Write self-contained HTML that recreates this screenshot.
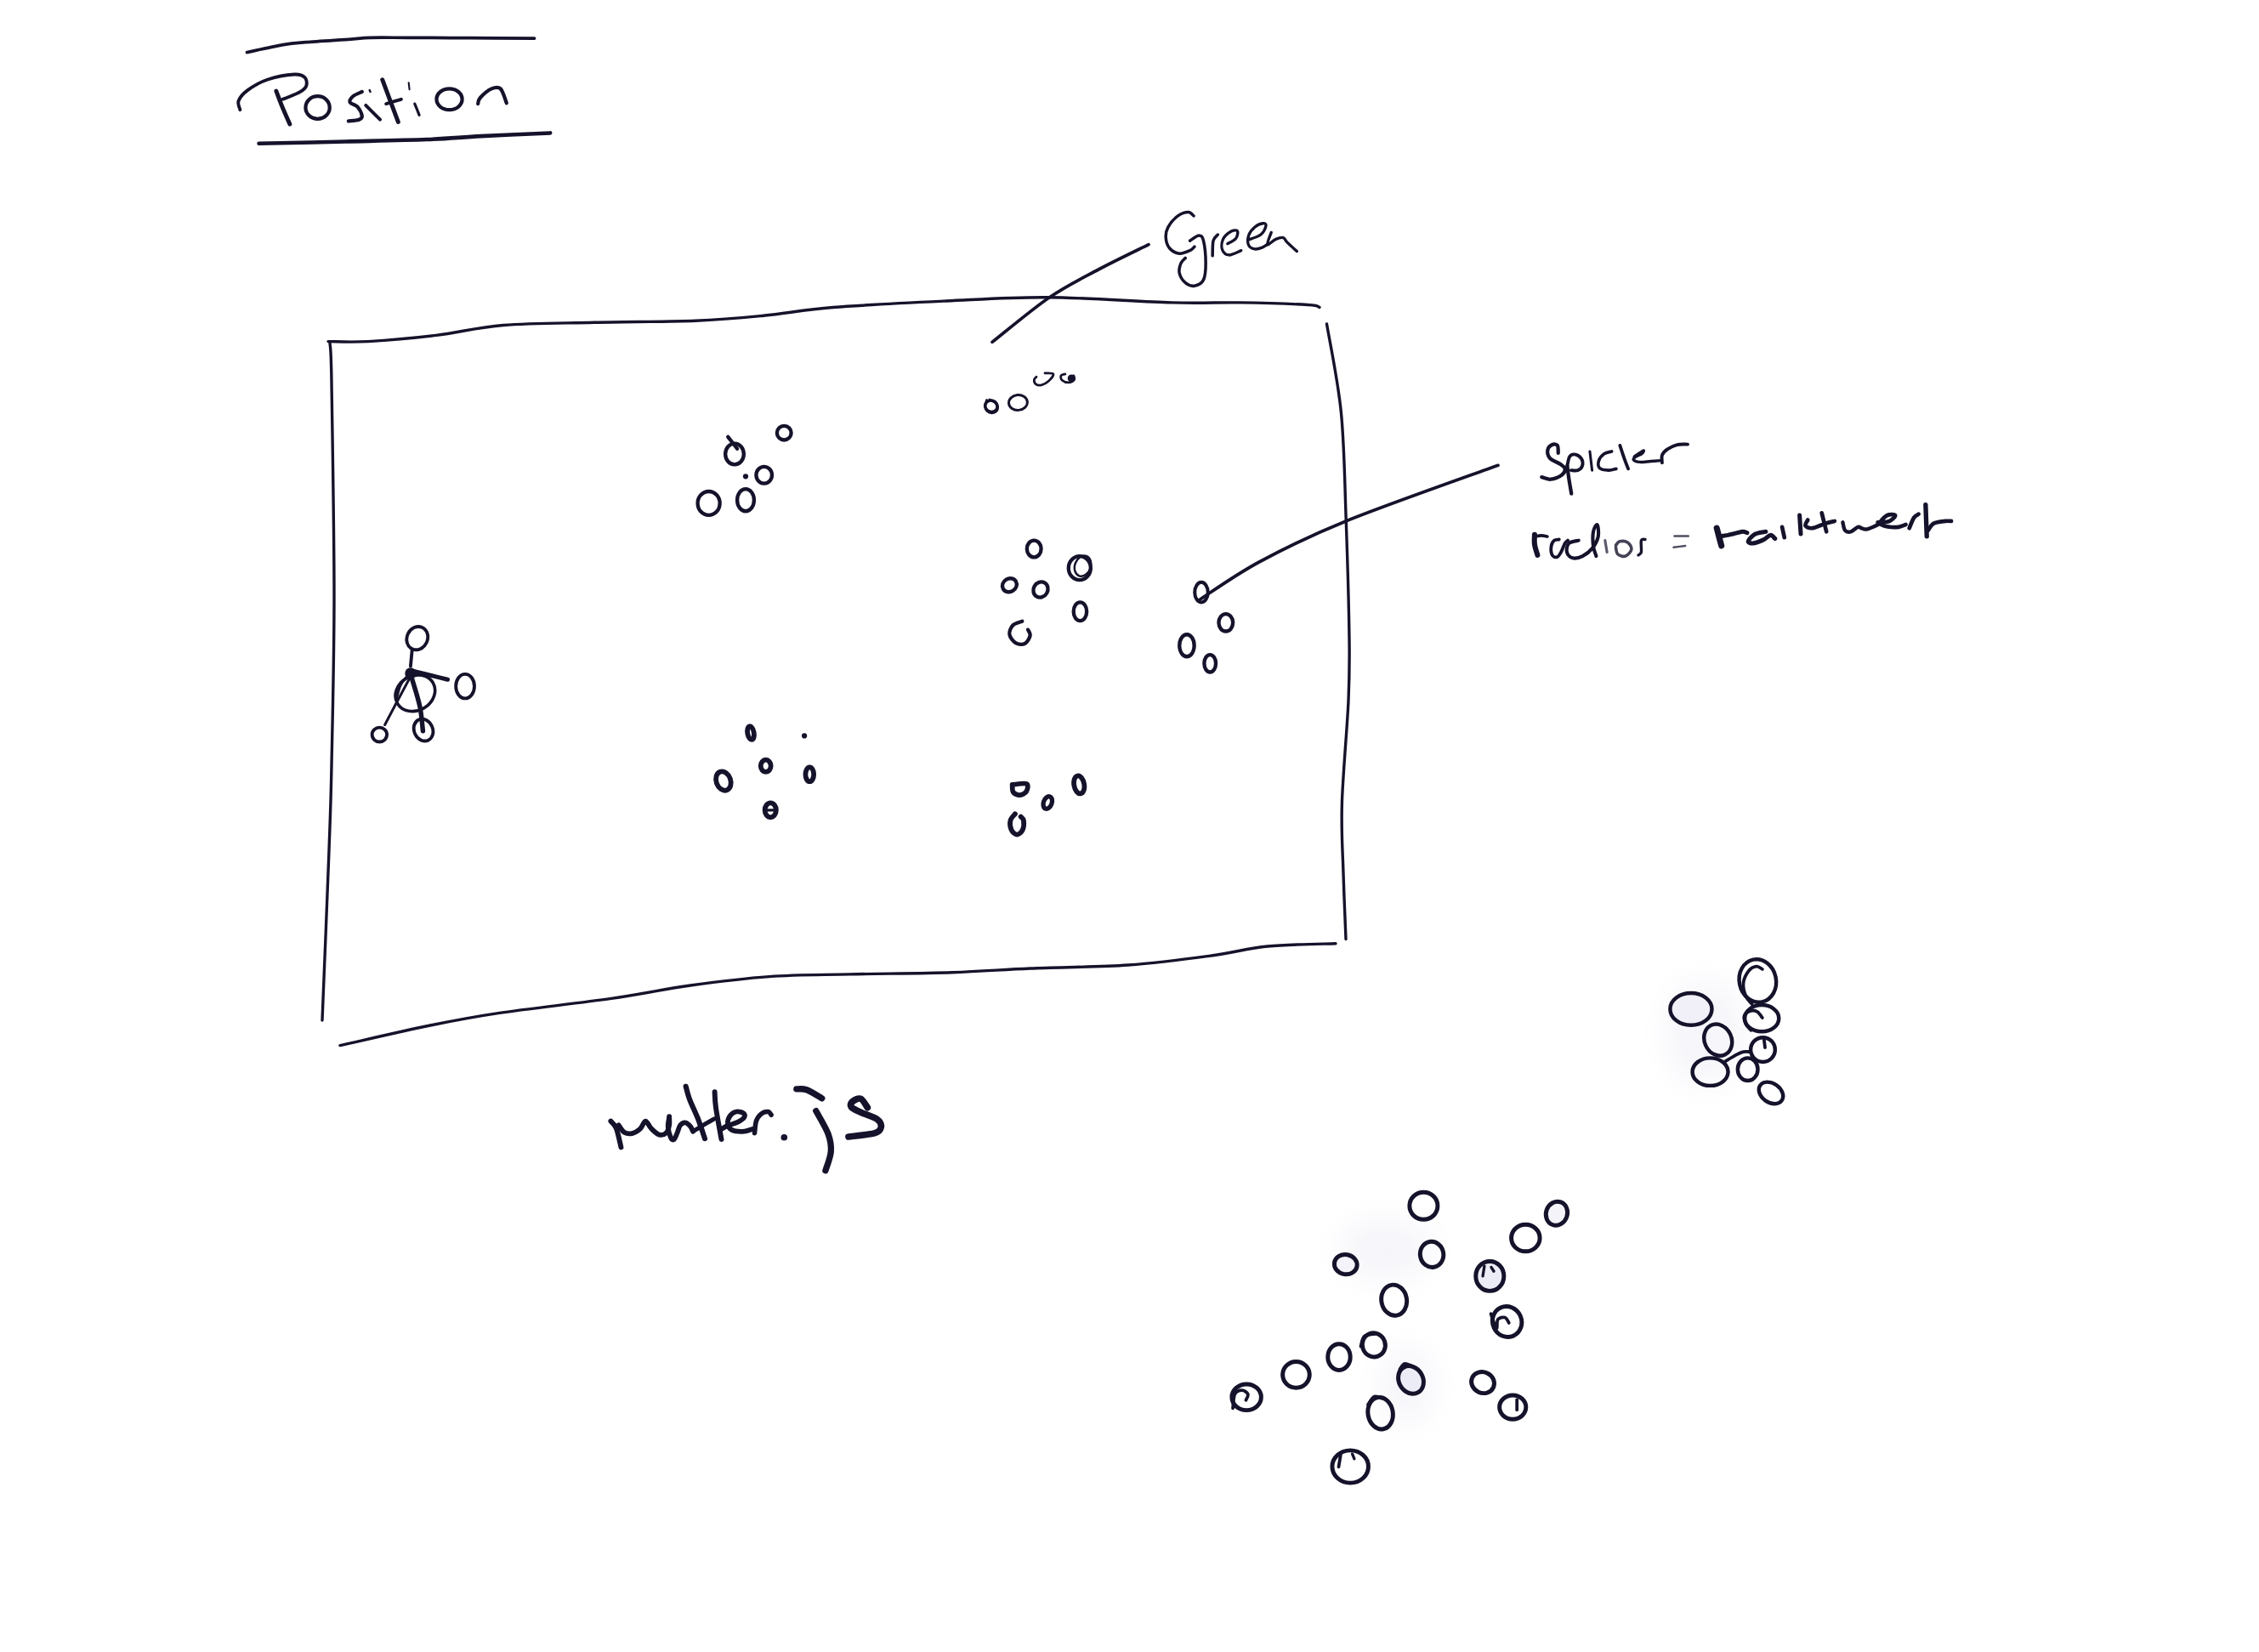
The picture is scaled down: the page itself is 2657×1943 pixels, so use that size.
<!DOCTYPE html>
<html><head><meta charset="utf-8"><title>Position sketch</title>
<style>
html,body{margin:0;padding:0;background:#ffffff;width:2657px;height:1943px;overflow:hidden;font-family:"Liberation Sans",sans-serif;}
svg{position:absolute;left:0;top:0;display:block;}
</style></head>
<body>
<svg width="2657" height="1943" viewBox="0 0 2657 1943">
<rect x="0" y="0" width="2657" height="1943" fill="#ffffff"/>
<defs><filter id="bl" x="-50%" y="-50%" width="200%" height="200%"><feGaussianBlur stdDeviation="18"/></filter></defs>
<g filter="url(#bl)" fill="#f5f5fa">
<ellipse cx="2005" cy="1215" rx="45" ry="60"/>
<ellipse cx="1630" cy="1470" rx="55" ry="35"/>
<ellipse cx="1655" cy="1630" rx="30" ry="45"/>
</g>
<g fill="none" stroke="#15132b" stroke-linecap="round" stroke-linejoin="round">
<g transform="translate(0,0) scale(1.000000)">
<path d="M386,401.6 C393.8,401.6 411.8,402.8 433,401.6 C454.2,400.4 486.5,397.6 513,394.4 C539.5,391.2 561,385 592,382.5 C623,380 661.3,380.2 699,379.3 C736.7,378.4 784.8,378.5 818,377.2 C851.2,375.9 871,373.9 898,371.3 C925,368.7 944.2,364.4 980,361.5 C1015.8,358.6 1071,356 1113,354 C1155,352 1187.8,349.4 1232,349.7 C1276.2,350 1340.3,354.9 1378,355.9 C1415.7,356.9 1431.3,355.5 1458,355.9 C1484.7,356.3 1522.3,357.6 1538,358.5 C1553.7,359.4 1549.7,361 1552,361.5" stroke-width="3.4"/>
<path d="M388,403 C388.3,410.8 389.2,400.5 390,450 C390.8,499.5 393,625 393,700 C393,775 391,850 390,900 C389,950 388.8,950 387,1000 C385.2,1050 380.3,1166.7 379,1200" stroke-width="3.4"/>
<path d="M1560.5,381 C1563.3,398.3 1573.6,446.7 1577.4,485 C1581.2,523.3 1581.6,566.7 1583.2,611 C1584.8,655.3 1586.5,715.5 1587,751 C1587.5,786.5 1587.4,791.7 1586,824 C1584.6,856.3 1579.4,911.2 1578.4,945 C1577.4,978.8 1579.2,1000.4 1580,1027 C1580.8,1053.6 1582.5,1091.6 1583,1104.5" stroke-width="3.4"/>
<path d="M400,1229.6 C417.7,1225.7 475,1212.3 506,1206 C537,1199.7 550.5,1196.9 586,1191.6 C621.5,1186.3 681.3,1179.8 719,1174.4 C756.7,1169 781,1163.3 812,1159 C843,1154.7 873.7,1150.8 905,1148.6 C936.3,1146.4 964.2,1146.7 1000,1145.9 C1035.8,1145.1 1084.7,1144.9 1120,1143.7 C1155.3,1142.5 1177.5,1140.5 1212,1139 C1246.5,1137.5 1291.5,1137.5 1327,1135 C1362.5,1132.5 1397.7,1127.7 1425,1124 C1452.3,1120.3 1466.7,1115.4 1491,1113 C1515.3,1110.6 1557.7,1110.2 1571,1109.7" stroke-width="3.4"/>
<path d="M1167,402.4 C1178.2,393.7 1213.2,364.2 1234,350 C1254.8,335.8 1272.5,327.4 1292,317 C1311.5,306.6 1341.2,292.5 1351,287.6" stroke-width="3.7"/>
<path d="M1410,706 C1421.8,698.5 1452.2,676.5 1481,661 C1509.8,645.5 1536.2,632 1583,613 C1629.8,594 1732.2,558.2 1762,547.3" stroke-width="3.7"/>
</g>
<g transform="translate(270,30) scale(0.177069)">
<path d="M116,178 C156,169.7 291,139.2 356,128 C421,116.8 431,117.2 506,111 C581,104.8 735.2,96 806,91 C876.8,86 867.8,82.7 931,81 C994.2,79.3 1073.5,80.7 1185,81 C1296.5,81.3 1460,82.3 1600,83 C1740,83.7 1954.2,84.7 2025,85" stroke-width="21"/>
<path d="M195,784 C291,781.8 585,775.5 771,771 C957,766.5 1161,763 1311,757 C1461,751 1534.5,742.2 1671,735 C1807.5,727.8 2053.5,717.5 2130,714" stroke-width="26"/>
<path d="M70,560 C68.3,550 51.7,521.7 60,500 C68.3,478.3 88.3,453.3 120,430 C151.7,406.7 198.3,377.5 250,360 C301.7,342.5 388.3,327.5 430,325 C471.7,322.5 486.7,332.5 500,345 C513.3,357.5 515,384.2 510,400 C505,415.8 491.7,426.7 470,440 C448.3,453.3 400,471.7 380,480 C360,488.3 355,488.3 350,490" stroke-width="22"/>
<path d="M310,435 C316.7,452.5 335,503.3 350,540 C365,576.7 391.7,635.8 400,655" stroke-width="28"/>
<ellipse cx="585" cy="545" rx="80" ry="75" stroke-width="24"/>
<path d="M880,440 C870,445 833.3,458.3 820,470 C806.7,481.7 795,498.3 800,510 C805,521.7 836.7,525 850,540 C863.3,555 878.3,585.8 880,600 C881.7,614.2 875,619.2 860,625 C845,630.8 801.7,633.3 790,635" stroke-width="24"/>
<path d="M905,530 C920.8,545.8 984.2,609.2 1000,625" stroke-width="22"/>
<path d="M930,430 C930.8,431.7 934.2,438.3 935,440" stroke-width="14"/>
<path d="M1015,360 C1032.5,406.7 1102.5,593.3 1120,640" stroke-width="28"/>
<path d="M1040,520 C1056.7,515 1123.3,495 1140,490" stroke-width="22"/>
<path d="M1230,520 C1235,532.5 1255,582.5 1260,595" stroke-width="18"/>
<path d="M1190,380 C1190.8,387.5 1194.2,417.5 1195,425" stroke-width="12"/>
<ellipse cx="1460" cy="490" rx="85" ry="70" stroke-width="24"/>
<path d="M1650,520 C1652.5,513.3 1650,496.7 1665,480 C1680,463.3 1717.5,430 1740,420 C1762.5,410 1783.3,404.2 1800,420 C1816.7,435.8 1833.3,499.2 1840,515" stroke-width="24"/>
</g>
<g transform="translate(1350,230) scale(0.088535)">
<path d="M610,270 C598.3,261.7 575,220 540,220 C505,220 445,236.7 400,270 C355,303.3 296.7,371.7 270,420 C243.3,468.3 236.7,513.3 240,560 C243.3,606.7 260,665 290,700 C320,735 375,765 420,770 C465,775 526.7,745 560,730 C593.3,715 610,688.3 620,680" stroke-width="40"/>
<path d="M560,600 C580,588.3 650,530 680,530 C710,530 725,538.3 740,600 C755,661.7 770,813.3 770,900 C770,986.7 765,1070 740,1120 C715,1170 660,1193.3 620,1200 C580,1206.7 533.3,1188.3 500,1160 C466.7,1131.7 430,1073.3 420,1030 C410,986.7 426.7,933.3 440,900 C453.3,866.7 490,841.7 500,830" stroke-width="40"/>
<path d="M860,800 C861.7,766.7 858.3,646.7 870,600 C881.7,553.3 920,533.3 930,520" stroke-width="40"/>
<path d="M1060,640 C1078.3,628.3 1148.3,598.3 1170,570 C1191.7,541.7 1201.7,485 1190,470 C1178.3,455 1131.7,461.7 1100,480 C1068.3,498.3 1018.3,540 1000,580 C981.7,620 976.7,685 990,720 C1003.3,755 1038.3,788.3 1080,790 C1121.7,791.7 1213.3,740 1240,730" stroke-width="38"/>
<path d="M1330,590 C1358.3,578.3 1460,551.7 1500,520 C1540,488.3 1565,425 1570,400 C1575,375 1555,366.7 1530,370 C1505,373.3 1451.7,393.3 1420,420 C1388.3,446.7 1353.3,490 1340,530 C1326.7,570 1326.7,630 1340,660 C1353.3,690 1390,705 1420,710 C1450,715 1490,701.7 1520,690 C1550,678.3 1586.7,648.3 1600,640" stroke-width="38"/>
<path d="M1640,490 C1631.7,516.7 1580,635 1590,650 C1600,665 1665,595 1700,580 C1735,565 1775,553.3 1800,560 C1825,566.7 1820,590 1850,620 C1880,650 1958.3,720 1980,740" stroke-width="38"/>
</g>
<g transform="translate(1800,500) scale(0.088535)">
<path d="M370,370 C368.3,353.3 373.3,288.3 360,270 C346.7,251.7 311.7,250 290,260 C268.3,270 235,300 230,330 C225,360 231.7,408.3 260,440 C288.3,471.7 366.7,496.7 400,520 C433.3,543.3 456.7,556.7 460,580 C463.3,603.3 451.7,636.7 420,660 C388.3,683.3 315,715 270,720 C225,725 170,695 150,690" stroke-width="48.3"/>
<path d="M490,540 C493.3,566.7 500.8,638.3 510,700 C519.2,761.7 539.2,875 545,910" stroke-width="48.3"/>
<path d="M480,600 C486.7,570 500,455 520,420 C540,385 573.3,385 600,390 C626.7,395 665,425 680,450 C695,475 698.3,515 690,540 C681.7,565 655,590 630,600 C605,610 555,600 540,600" stroke-width="43.7"/>
<path d="M790,350 C795,391.7 815,558.3 820,600" stroke-width="34.5"/>
<path d="M1080,350 C1063.3,355 1008.3,360 980,380 C951.7,400 920,438.3 910,470 C900,501.7 898.3,548.3 920,570 C941.7,591.7 1003.3,598.3 1040,600 C1076.7,601.7 1123.3,583.3 1140,580" stroke-width="41.4"/>
<path d="M1190,270 C1200,300 1231.7,398.3 1250,450 C1268.3,501.7 1291.7,558.3 1300,580" stroke-width="43.7"/>
<path d="M1380,420 C1400,406.7 1483.3,346.7 1500,340 C1516.7,333.3 1496.7,366.7 1480,380 C1463.3,393.3 1418.3,406.7 1400,420 C1381.7,433.3 1361.7,448.3 1370,460 C1378.3,471.7 1411.7,486.7 1450,490 C1488.3,493.3 1551.7,483.3 1600,480 C1648.3,476.7 1716.7,471.7 1740,470" stroke-width="39.1"/>
<path d="M1750,500 C1750,483.3 1738.3,430 1750,400 C1761.7,370 1786.7,343.3 1820,320 C1853.3,296.7 1905,270.8 1950,260 C1995,249.2 2066.7,255.8 2090,255" stroke-width="43.7"/>
</g>
<g transform="translate(1790,585) scale(0.115101)">
<path d="M130,380 C130,396.7 125,445 130,480 C135,515 155,571.7 160,590" stroke-width="52.5"/>
<path d="M130,400 C141.7,398.3 178.3,390 200,390 C221.7,390 250,398.3 260,400" stroke-width="31.5"/>
<path d="M380,430 C371.7,431.7 343.3,428.3 330,440 C316.7,451.7 303.3,475 300,500 C296.7,525 300,571.7 310,590 C320,608.3 345,615 360,610 C375,605 386.7,583.3 400,560 C413.3,536.7 428.3,490 440,470 C451.7,450 465,445 470,440" stroke-width="33.6"/>
<path d="M580,440 C563.3,445 500,450 480,470 C460,490 453.3,535 460,560 C466.7,585 493.3,613.3 520,620 C546.7,626.7 586.7,616.7 620,600 C653.3,583.3 693.3,553.3 720,520 C746.7,486.7 771.7,440 780,400 C788.3,360 778.3,288.3 770,280 C761.7,271.7 736.7,313.3 730,350 C723.3,386.7 725,458.3 730,500 C735,541.7 755,583.3 760,600" stroke-width="35.7"/>
<path d="M850,440 C853.3,460 866.7,540 870,560" stroke-width="27.3" stroke-opacity="0.7"/>
<path d="M960,490 C966.7,483.3 980,455 1000,450 C1020,445 1060,446.7 1080,460 C1100,473.3 1123.3,506.7 1120,530 C1116.7,553.3 1083.3,591.7 1060,600 C1036.7,608.3 996.7,595 980,580 C963.3,565 963.3,521.7 960,510" stroke-width="31.5" stroke-opacity="0.8"/>
<path d="M1260,430 C1253.3,431.7 1226.7,418.3 1220,440 C1213.3,461.7 1225,535 1220,560 C1215,585 1195,585 1190,590" stroke-width="29.4"/>
<path d="M1560,395 C1583.3,395 1676.7,395 1700,395" stroke-width="23.1" stroke-opacity="0.75"/>
<path d="M1550,510 C1570,507.5 1650,497.5 1670,495" stroke-width="21" stroke-opacity="0.75"/>
</g>
<g transform="translate(2000,580) scale(0.137231)">
<path d="M140,300 C146.7,325 173.3,425 180,450" stroke-width="51.75"/>
<path d="M180,370 C196.7,366.7 250,356.7 280,350 C310,343.3 340,331.7 360,330 C380,328.3 393.3,338.3 400,340" stroke-width="36.8"/>
<path d="M560,330 C545,333.3 495,336.7 470,350 C445,363.3 413.3,396.7 410,410 C406.7,423.3 428.3,431.7 450,430 C471.7,428.3 515,411.7 540,400 C565,388.3 583.3,361.7 600,360 C616.7,358.3 633.3,385 640,390" stroke-width="36.8"/>
<path d="M720,380 C716.7,365 703.3,305 700,290" stroke-width="34.5"/>
<path d="M850,190 C851.7,216.7 858.3,323.3 860,350" stroke-width="36.8"/>
<path d="M920,230 C916.7,238.3 893.3,268.3 900,280 C906.7,291.7 931.7,303.3 960,300 C988.3,296.7 1038.3,270 1070,260 C1101.7,250 1136.7,243.3 1150,240" stroke-width="34.5"/>
<path d="M1040,170 C1046.7,196.7 1073.3,303.3 1080,330" stroke-width="34.5"/>
<path d="M1220,250 C1223.3,261.7 1228.3,306.7 1240,320 C1251.7,333.3 1271.7,335 1290,330 C1308.3,325 1335,295 1350,290 C1365,285 1368.3,296.7 1380,300 C1391.7,303.3 1403.3,311.7 1420,310 C1436.7,308.3 1460,298.3 1480,290 C1500,281.7 1530,265 1540,260" stroke-width="32.2"/>
<path d="M1520,250 C1536.7,248.3 1595,250 1620,240 C1645,230 1673.3,198.3 1670,190 C1666.7,181.7 1621.7,178.3 1600,190 C1578.3,201.7 1536.7,243.3 1540,260 C1543.3,276.7 1593.3,285 1620,290 C1646.7,295 1676.7,293.3 1700,290 C1723.3,286.7 1750,273.3 1760,270" stroke-width="34.5"/>
<path d="M1790,300 C1796.7,285 1816.7,230 1830,210 C1843.3,190 1863.3,185 1870,180" stroke-width="34.5"/>
<path d="M1930,100 C1931.7,145 1938.3,325 1940,370" stroke-width="39.1"/>
<path d="M1950,320 C1958.3,310 1975,273.3 2000,260 C2025,246.7 2075,243.3 2100,240 C2125,236.7 2141.7,240 2150,240" stroke-width="34.5"/>
</g>
<g transform="translate(710,1275) scale(0.092963)">
<path d="M90,470 C101.7,485 138.3,505 160,560 C181.7,615 210,760 220,800" stroke-width="64"/>
<path d="M190,520 C201.7,535 231.7,592.5 260,610 C288.3,627.5 326.7,631.7 360,625 C393.3,618.3 431.7,595.8 460,570 C488.3,544.2 506.7,471.7 530,470 C553.3,468.3 571.7,531.7 600,560 C628.3,588.3 668.3,630 700,640 C731.7,650 768.3,640 790,620 C811.7,600 823.3,555 830,520 C836.7,485 830,428.3 830,410" stroke-width="62"/>
<path d="M830,420 C827.5,440 811.7,496.7 815,540 C818.3,583.3 837.5,653.3 850,680 C862.5,706.7 876.7,710 890,700 C903.3,690 916.7,650 930,620 C943.3,590 951.7,541.7 970,520 C988.3,498.3 1018.3,486.7 1040,490 C1061.7,493.3 1085,521.7 1100,540 C1115,558.3 1125,590 1130,600" stroke-width="62"/>
<path d="M1130,600 C1151.7,586.7 1215,546.7 1260,520 C1305,493.3 1376.7,453.3 1400,440" stroke-width="55"/>
<path d="M1040,30 C1048.3,58.3 1065,133.3 1090,200 C1115,266.7 1158.3,348.3 1190,430 C1221.7,511.7 1265,646.7 1280,690" stroke-width="66"/>
<path d="M1405,100 C1407.5,133.3 1405.8,200 1420,300 C1434.2,400 1478.3,633.3 1490,700" stroke-width="64"/>
<path d="M1490,570 C1501.7,563.3 1525,545 1560,530 C1595,515 1663.3,498.3 1700,480 C1736.7,461.7 1768.3,438.3 1780,420 C1791.7,401.7 1786.7,381.7 1770,370 C1753.3,358.3 1708.3,345 1680,350 C1651.7,355 1618.3,375 1600,400 C1581.7,425 1566.7,470 1570,500 C1573.3,530 1588.3,563.3 1620,580 C1651.7,596.7 1716.7,601.7 1760,600 C1803.3,598.3 1860,575 1880,570" stroke-width="62"/>
<path d="M1910,620 C1913.3,595 1916.7,510 1930,470 C1943.3,430 1965,400 1990,380 C2015,360 2058.3,348.3 2080,350 C2101.7,351.7 2113.3,383.3 2120,390" stroke-width="60"/>
</g>
<g transform="translate(700,1270) scale(0.159363)">
<circle cx="1395" cy="425" r="24" fill="#15132b" stroke="none"/>
<path d="M1486,68 C1498.5,69 1529.7,62.5 1561,74 C1592.3,85.5 1655.2,126.5 1674,137" stroke-width="46"/>
<path d="M1630,230 C1645,258.3 1701.7,350 1720,400 C1738.3,450 1743.3,485 1740,530 C1736.7,575 1706.7,646.7 1700,670" stroke-width="46"/>
<path d="M2010,205 C2001.7,194.2 1978.3,147.5 1960,140 C1941.7,132.5 1911.7,150 1900,160 C1888.3,170 1880,186.7 1890,200 C1900,213.3 1928.3,225 1960,240 C1991.7,255 2055,271.7 2080,290 C2105,308.3 2113.3,332.5 2110,350 C2106.7,367.5 2100,383.3 2060,395 C2020,406.7 1901.7,415.8 1870,420" stroke-width="48"/>
</g>
<g transform="translate(300,300) scale(0.309885)">
<ellipse cx="1820" cy="755" rx="35" ry="40" stroke-width="14"/>
<path d="M1795,690 C1800.8,697.5 1824.2,727.5 1830,735" stroke-width="14"/>
<ellipse cx="2008" cy="675" rx="27" ry="27" stroke-width="14"/>
<ellipse cx="1932" cy="835" rx="30" ry="32" stroke-width="14"/>
<circle cx="1862" cy="840" r="10" fill="#15132b" stroke="none"/>
<ellipse cx="1722" cy="942" rx="42" ry="45" stroke-width="14"/>
<ellipse cx="1862" cy="930" rx="32" ry="42" stroke-width="14"/>
</g>
<g transform="translate(1140,420) scale(0.066401)">
<ellipse cx="390" cy="870" rx="110" ry="100" stroke-width="55" transform="rotate(20 390 870)"/>
<path d="M310,760 C305,776.7 278.3,826.7 280,860 C281.7,893.3 296.7,938.3 320,960 C343.3,981.7 390,995 420,990 C450,985 491.7,958.3 500,930 C508.3,901.7 493.3,850 470,820 C446.7,790 378.3,761.7 360,750" stroke-width="40"/>
<ellipse cx="865" cy="805" rx="165" ry="135" stroke-width="45" transform="rotate(-5 865 805)"/>
<path d="M1190,350 C1183.3,358.3 1151.7,378.3 1150,400 C1148.3,421.7 1158.3,464.2 1180,480 C1201.7,495.8 1243.3,503.3 1280,495 C1316.7,486.7 1365,462.5 1400,430 C1435,397.5 1500,324.2 1490,300 C1480,275.8 1365,287.5 1340,285" stroke-width="42"/>
<path d="M1700,300 C1687.5,305 1634.2,311.7 1625,330 C1615.8,348.3 1622.5,390 1645,410 C1667.5,430 1724.2,451.7 1760,450 C1795.8,448.3 1845,420 1860,400 C1875,380 1851.7,341.7 1850,330" stroke-width="42"/>
<circle cx="1810" cy="375" r="68" fill="#15132b" stroke="none"/>
</g>
<g transform="translate(1100,520) scale(0.309885)">
<ellipse cx="375" cy="405" rx="27" ry="32" stroke-width="14"/>
<ellipse cx="282" cy="543" rx="28" ry="25" stroke-width="14" transform="rotate(-30 282 543)"/>
<ellipse cx="400" cy="560" rx="27" ry="30" stroke-width="14" transform="rotate(30 400 560)"/>
<ellipse cx="548" cy="478" rx="42" ry="45" stroke-width="14"/>
<ellipse cx="560" cy="470" rx="30" ry="40" stroke-width="8" transform="rotate(20 560 470)"/>
<ellipse cx="550" cy="643" rx="25" ry="35" stroke-width="14"/>
<path d="M330,680 C324.2,682.5 303,686.7 295,695 C287,703.3 280.3,718.8 282,730 C283.7,741.2 295.3,756.2 305,762 C314.7,767.8 330.8,769.5 340,765 C349.2,760.5 358,743.8 360,735 C362,726.2 353.3,715.8 352,712" stroke-width="14"/>
<ellipse cx="1010" cy="570" rx="25" ry="38" stroke-width="13"/>
<ellipse cx="1103" cy="685" rx="27" ry="33" stroke-width="14"/>
<ellipse cx="955" cy="772" rx="28" ry="42" stroke-width="14"/>
<ellipse cx="1043" cy="840" rx="22" ry="33" stroke-width="14"/>
</g>
<g transform="translate(380,700) scale(0.121065)">
<ellipse cx="915" cy="418" rx="100" ry="115" stroke-width="32" transform="rotate(25 915 418)"/>
<path d="M865,530 C862.5,556.7 852.5,663.3 850,690" stroke-width="32"/>
<circle cx="850" cy="760" r="55" fill="#15132b" stroke="none"/>
<ellipse cx="895" cy="952" rx="200" ry="168" stroke-width="30" transform="rotate(-30 895 952)"/>
<path d="M715,1000 C720.8,980 735,913.3 750,880 C765,846.7 795.8,813.3 805,800" stroke-width="24"/>
<path d="M880,740 C908.3,746.7 995,766.7 1050,780 C1105,793.3 1183.3,813.3 1210,820" stroke-width="42"/>
<ellipse cx="1380" cy="885" rx="90" ry="118" stroke-width="32"/>
<path d="M850,790 C825,836.7 741.7,991.7 700,1070 C658.3,1148.3 616.7,1228.3 600,1260" stroke-width="25"/>
<ellipse cx="548" cy="1355" rx="72" ry="70" stroke-width="32"/>
<path d="M860,800 C873.3,846.7 921.7,993.3 940,1080 C958.3,1166.7 965,1280 970,1320" stroke-width="45"/>
<ellipse cx="975" cy="1310" rx="90" ry="110" stroke-width="32" transform="rotate(-25 975 1310)"/>
</g>
<g transform="translate(800,830) scale(0.221337)">
<ellipse cx="375" cy="145" rx="17" ry="36" stroke-width="26" transform="rotate(-10 375 145)"/>
<circle cx="660" cy="160" r="14" fill="#15132b" stroke="none"/>
<ellipse cx="455" cy="320" rx="27" ry="32" stroke-width="26"/>
<ellipse cx="230" cy="400" rx="38" ry="52" stroke-width="26" transform="rotate(-20 230 400)"/>
<ellipse cx="688" cy="365" rx="22" ry="38" stroke-width="26"/>
<ellipse cx="480" cy="555" rx="30" ry="38" stroke-width="26"/>
<path d="M455,555 C463.3,555 496.7,555 505,555" stroke-width="14"/>
<path d="M1765,420 C1765.8,426.7 1763.3,450.8 1770,460 C1776.7,469.2 1793.3,475.8 1805,475 C1816.7,474.2 1834.2,465 1840,455 C1845.8,445 1852.5,420.8 1840,415 C1827.5,409.2 1777.5,419.2 1765,420" stroke-width="26"/>
<ellipse cx="1953" cy="515" rx="22" ry="34" stroke-width="24" transform="rotate(20 1953 515)"/>
<ellipse cx="2120" cy="420" rx="27" ry="48" stroke-width="26" transform="rotate(-10 2120 420)"/>
<path d="M1780,575 C1775.8,580.8 1758.3,595.8 1755,610 C1751.7,624.2 1754.2,647.5 1760,660 C1765.8,672.5 1780,685 1790,685 C1800,685 1814.2,672.5 1820,660 C1825.8,647.5 1826.7,621.7 1825,610 C1823.3,598.3 1812.5,593.3 1810,590" stroke-width="26"/>
</g>
<g transform="translate(1940,1110) scale(0.127113)">
<ellipse cx="1002" cy="342" rx="170" ry="200" stroke-width="35" transform="rotate(-12 1002 342)"/>
<path d="M1045,235 C1035.8,230.8 1010.8,207.5 990,210 C969.2,212.5 940,225 920,250 C900,275 875,321.7 870,360 C865,398.3 876.7,446.7 890,480 C903.3,513.3 940,546.7 950,560" stroke-width="30"/>
<ellipse cx="385" cy="605" rx="193" ry="148" stroke-width="35" fill="#f1f0f8"/>
<ellipse cx="1040" cy="690" rx="158" ry="123" stroke-width="35"/>
<path d="M1045,685 C1037.5,675.8 1017.5,640.8 1000,630 C982.5,619.2 960,615 940,620 C920,625 888.3,640 880,660 C871.7,680 880,716.7 890,740 C900,763.3 931.7,790 940,800" stroke-width="30"/>
<ellipse cx="635" cy="890" rx="125" ry="150" stroke-width="35" transform="rotate(-25 635 890)"/>
<ellipse cx="1050" cy="980" rx="113" ry="113" stroke-width="35"/>
<path d="M1060,880 C1061.7,893.3 1068.3,946.7 1070,960" stroke-width="30"/>
<ellipse cx="563" cy="1185" rx="165" ry="128" stroke-width="35"/>
<ellipse cx="910" cy="1162" rx="93" ry="105" stroke-width="35"/>
<path d="M700,1090 C716.7,1080 771.7,1045 800,1030 C828.3,1015 848.3,1005 870,1000 C891.7,995 920,1000 930,1000" stroke-width="30"/>
<ellipse cx="1125" cy="1380" rx="122" ry="88" stroke-width="35" transform="rotate(35 1125 1380)"/>
</g>
<g transform="translate(1430,1380) scale(0.236128)">
<ellipse cx="1035" cy="162" rx="70" ry="68" stroke-width="21"/>
<ellipse cx="1698" cy="200" rx="53" ry="60" stroke-width="21" transform="rotate(20 1698 200)" fill="#f3f3f9"/>
<ellipse cx="1543" cy="322" rx="71" ry="67" stroke-width="21"/>
<ellipse cx="1076" cy="404" rx="58" ry="64" stroke-width="21" transform="rotate(-10 1076 404)"/>
<ellipse cx="647" cy="454" rx="57" ry="49" stroke-width="21" transform="rotate(10 647 454)" fill="#f3f3f9"/>
<ellipse cx="1365" cy="512" rx="70" ry="74" stroke-width="21" fill="#ececf6"/>
<ellipse cx="888" cy="632" rx="63" ry="77" stroke-width="21" transform="rotate(-10 888 632)"/>
<ellipse cx="1451" cy="739" rx="72" ry="77" stroke-width="21" transform="rotate(-25 1451 739)"/>
<ellipse cx="787" cy="855" rx="57" ry="60" stroke-width="21" transform="rotate(-20 787 855)"/>
<ellipse cx="614" cy="915" rx="56" ry="65" stroke-width="21"/>
<ellipse cx="400" cy="1003" rx="67" ry="65" stroke-width="21"/>
<ellipse cx="153" cy="1115" rx="73" ry="65" stroke-width="21"/>
<ellipse cx="972" cy="1029" rx="60" ry="72" stroke-width="21" transform="rotate(-30 972 1029)" fill="#ececf6"/>
<ellipse cx="1330" cy="1042" rx="58" ry="52" stroke-width="21" transform="rotate(25 1330 1042)"/>
<ellipse cx="820" cy="1195" rx="62" ry="80" stroke-width="21" transform="rotate(-10 820 1195)"/>
<ellipse cx="1479" cy="1165" rx="66" ry="60" stroke-width="21"/>
<ellipse cx="670" cy="1461" rx="90" ry="81" stroke-width="21"/>
<path d="M622,1402 C620.3,1412 613.7,1452 612,1462" stroke-width="16"/>
<path d="M680,1398 C681.7,1402 688.3,1418 690,1422" stroke-width="14"/>
<path d="M1500,1128 C1500,1136.3 1500,1169.7 1500,1178" stroke-width="16"/>
<path d="M150,1130 C151.7,1125 163.3,1108.3 160,1100 C156.7,1091.7 140.8,1080 130,1080 C119.2,1080 102.5,1085 95,1100 C87.5,1115 86.7,1158.3 85,1170" stroke-width="16"/>
<path d="M1460,745 C1456.7,740.5 1449.2,720.8 1440,718 C1430.8,715.2 1412,719 1405,728 C1398,737 1403.8,776.7 1398,772 C1392.2,767.3 1374.7,712 1370,700" stroke-width="16"/>
<path d="M1338,462 C1336.7,470.3 1331.3,503.7 1330,512" stroke-width="14"/>
<path d="M1372,468 C1374.2,471.3 1382.8,484.7 1385,488" stroke-width="14"/>
<path d="M722,862 C725,853.7 728.3,822.3 740,812 C751.7,801.7 783.3,802 792,800" stroke-width="16"/>
<path d="M758,1152 C763.3,1145.3 777.7,1117 790,1112 C802.3,1107 825,1120.3 832,1122" stroke-width="16"/>
<path d="M918,975 C921.7,970.8 931,952.8 940,950 C949,947.2 966.7,956.7 972,958" stroke-width="18"/>
</g>
</g>
</svg>
</body></html>
